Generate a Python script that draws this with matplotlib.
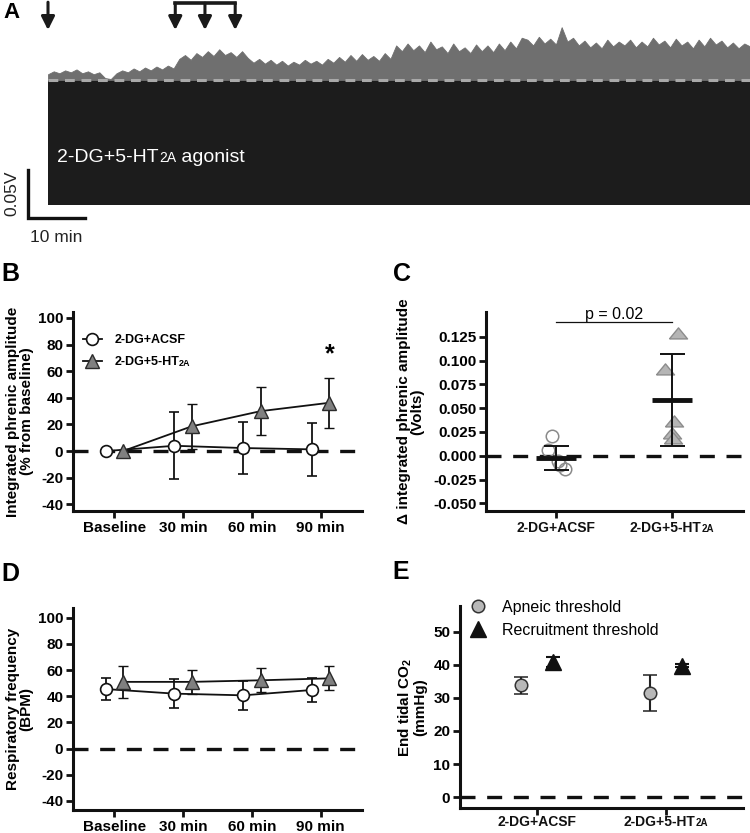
import numpy as np
import matplotlib
matplotlib.use("Agg")
import matplotlib.pyplot as plt
from matplotlib.lines import Line2D
from matplotlib.offsetbox import TextArea, HPacker, AnnotationBbox

plt.rcParams['font.family'] = ['Liberation Sans', 'DejaVu Sans']
plt.rcParams['font.weight'] = 'bold'
plt.rcParams['axes.labelweight'] = 'bold'
plt.rcParams['axes.unicode_minus'] = False
plt.rcParams['mathtext.fontset'] = 'custom'
plt.rcParams['mathtext.rm'] = 'Liberation Sans'
plt.rcParams['mathtext.bf'] = 'Liberation Sans:bold'

# ---------------- data ----------------
# A: integrated phrenic envelope above baseline (mV), one reading per minute
trace_min = np.arange(124)
trace_mv = [6, 9, 7, 10, 8, 11, 7, 9, 6, 8,
            2, 1,
            7, 10, 8, 12, 9, 13, 10, 14, 11, 15, 12,
            22, 26, 21, 28, 24, 30, 25, 32, 26, 29, 24, 30, 23,
            18, 22, 17, 21, 16, 20, 15, 19, 16, 21, 17, 20, 16, 22, 18, 24, 19,
            26, 20, 27, 21, 25, 20, 28, 22,
            36, 30, 38, 31, 36, 29, 40, 32, 35, 28, 38, 30, 34, 28, 37, 30, 36,
            29, 38, 31, 40, 33, 44,
            42, 36, 45, 38, 43, 37, 55, 40, 44, 36, 41, 34, 39, 33, 42, 35, 40,
            36, 42, 34, 40, 35, 44, 37, 41, 34, 43, 36, 40, 33, 42, 35, 44, 37,
            41, 34, 39, 33, 38, 35]
raw_depth_mv = -130
arrow_min = [0]
bracket_min = [22.3, 27.5, 32.8]

# B / D
time_labels = ["Baseline", "30 min", "60 min", "90 min"]
amp_acsf = [0, 4, 2.3, 1.3]
amp_acsf_err = [0, 25.2, 19.6, 20]
amp_ht = [0, 18.6, 30, 36.3]
amp_ht_err = [0, 16.7, 18, 18.9]
freq_acsf = [45.5, 42, 40.7, 44.8]
freq_acsf_err = [8.7, 11.3, 11.2, 9.3]
freq_ht = [51, 51, 52.2, 53.7]
freq_ht_err = [12, 9.3, 9.3, 9.3]

# C
dv_acsf = [0.021, 0.006, -0.006, -0.010, -0.014]
dv_acsf_jit = [-0.03, -0.07, 0.02, 0.035, 0.08]
dv_ht = [0.129, 0.091, 0.036, 0.024, 0.019]
dv_ht_jit = [0.05, -0.06, 0.02, 0.0, 0.01]
dv_mean = [-0.0025, 0.0585]
dv_sd = [0.0125, 0.0485]
p_text = "p = 0.02"
p_level = 0.140

# E
co2_apneic = [33.8, 31.5]
co2_apneic_err = [2.6, 5.5]
co2_recruit = [41.0, 39.8]
co2_recruit_err = [1.5, 0.5]

# ---------------- helpers ----------------
W, H = 750, 833


def box(l, t, r, b):
    return [l / W, 1 - b / H, (r - l) / W, (b - t) / H]


def style(ax):
    for s in ['top', 'right']:
        ax.spines[s].set_visible(False)
    for s in ['left', 'bottom']:
        ax.spines[s].set_linewidth(2.2)
        ax.spines[s].set_color('#111111')
    ax.tick_params(direction='out', length=5, width=2, labelsize=11, pad=2,
                   color='#111111')


def zero_line(ax):
    ax.axhline(0, color='#111111', lw=2.4, ls=(0, (4.5, 3.5)), zorder=1)


def rich(ax, x, y, parts, xycoords, align, offset=(0, 0)):
    areas = [TextArea(s, textprops=p) for s, p in parts]
    pack = HPacker(children=areas, align='baseline', pad=0, sep=0)
    ab = AnnotationBbox(pack, (x, y), xycoords=xycoords, xybox=offset,
                        boxcoords='offset points', frameon=False,
                        box_alignment=align, pad=0, annotation_clip=False)
    ax.add_artist(ab)


def group_labels(ax, drop):
    ax.set_xticks([0, 1])
    ax.set_xticklabels(['', ''])
    big = dict(fontsize=10, fontweight='bold', color='#111111')
    small = dict(fontsize=7, fontweight='bold', color='#111111')
    tr = ax.get_xaxis_transform()
    rich(ax, 0, 0, [("2-DG+ACSF", big)], tr, (0.5, 1), (0, -drop))
    rich(ax, 1, 0, [("2-DG+5-HT", big), ("2A", small)], tr, (0.5, 1), (0, -drop))


fig = plt.figure(figsize=(7.5, 8.33), dpi=100)

# ---------------- A ----------------
axA = fig.add_axes(box(0, 0, 750, 245))
axA.axis('off')
axA.set_xlim(-8.41, 123)
axA.set_ylim(-171.9, 83.3)
axA.fill_between(trace_min, raw_depth_mv, 0, color='#1c1c1c', lw=0)
axA.fill_between(trace_min, 0, trace_mv, color='#6f6f6f', lw=0.6,
                 edgecolor='#6f6f6f')
axA.plot([trace_min[0], trace_min[-1]], [0, 0], color='#a9a9a9', lw=2.2,
         ls=(0, (3.2, 2.2)))
arrow_kw = dict(arrowstyle='-|>', lw=2.2, color='#1a1a1a', mutation_scale=20,
                shrinkA=0, shrinkB=0)
for t in arrow_min:
    axA.annotate('', xy=(t, 52), xytext=(t, 81), arrowprops=arrow_kw)
for t in bracket_min:
    axA.annotate('', xy=(t, 52), xytext=(t, 80), arrowprops=arrow_kw)
axA.plot([bracket_min[0], bracket_min[-1]], [80, 80], color='#1a1a1a', lw=2.6,
         solid_capstyle='projecting')
# scale bars: 10 min x 0.05 V
axA.plot([-3.5, -3.5, 6.5], [-93.7, -143.7, -143.7], color='#111111', lw=2.4,
         solid_joinstyle='miter', clip_on=False)
axA.text(-6.4, -118, "0.05V", rotation=90, ha='center', va='center',
         fontsize=12.5, fontweight='normal', color='#222222')
axA.text(1.5, -164, "10 min", ha='center', va='center', fontsize=12.5,
         fontweight='normal', color='#222222')
w_big = dict(fontsize=14, fontweight='normal', color='white')
w_small = dict(fontsize=10, fontweight='normal', color='white')
rich(axA, 1.6, -81, [("2-DG+5-HT", w_big), ("2A", w_small), (" agonist", w_big)],
     'data', (0, 0.5))

# ---------------- B ----------------
x4 = np.arange(len(time_labels))
circ = dict(marker='o', ms=8.5, mfc='white', mec='#111111', mew=1.2)
tri = dict(marker='^', ms=10.5, mfc='#808080', mec='#2b2b2b', mew=1.0)
eb = dict(color='#111111', lw=1.3, elinewidth=1.3, capsize=3.8, capthick=1.3)

axB = fig.add_axes(box(73, 312, 362, 511))
style(axB)
zero_line(axB)
axB.errorbar(x4 - 0.125, amp_acsf, yerr=amp_acsf_err, errorevery=(1, 1),
             zorder=3, **circ, **eb)
axB.errorbar(x4 + 0.125, amp_ht, yerr=amp_ht_err, errorevery=(1, 1),
             zorder=4, **tri, **eb)
axB.text(x4[-1] + 0.125, 73, "*", ha='center', va='center', fontsize=18,
         fontweight='bold')
axB.set_xlim(-0.6, 3.6)
axB.set_ylim(-45, 104.5)
axB.set_yticks(range(-40, 101, 20))
axB.set_xticks(x4)
axB.set_xticklabels(time_labels)
axB.set_ylabel("Integrated phrenic amplitude\n(% from baseline)", fontsize=11,
               labelpad=3, linespacing=1.0)
handles = [Line2D([], [], color='#111111', lw=1.3, **circ),
           Line2D([], [], color='#111111', lw=1.3, **tri)]
leg = axB.legend(handles, ["2-DG+ACSF", "2-DG+5-HT"], loc='upper left',
                 bbox_to_anchor=(0.035, 0.89), frameon=False, fontsize=9,
                 handlelength=1.5, handletextpad=1.0, labelspacing=0.8,
                 borderaxespad=0, borderpad=0)
axB.annotate("2A", xy=(1, 0), xycoords=leg.get_texts()[1], ha='left',
             va='bottom', fontsize=6.5, fontweight='bold', zorder=6)

# ---------------- C ----------------
axC = fig.add_axes(box(486, 312, 743, 511))
style(axC)
zero_line(axC)
axC.plot(dv_acsf_jit, dv_acsf, ls='none', marker='o', ms=9, mfc='none',
         mec='#8a8a8a', mew=1.1, zorder=3)
wide_tri = [(-1, -0.6), (1, -0.6), (0, 0.62), (-1, -0.6)]
axC.plot(1 + np.array(dv_ht_jit), dv_ht, ls='none', marker=wide_tri, ms=13,
         mfc='#b5b5b5', mec='#8c8c8c', mew=1.0, zorder=3)
axC.hlines(dv_mean, np.arange(2) - 0.17, np.arange(2) + 0.17, color='#111111',
           lw=3.5, zorder=5)
axC.errorbar(np.arange(2), dv_mean, yerr=dv_sd, fmt='none', ecolor='#111111',
             elinewidth=1.4, capsize=9, capthick=1.4, zorder=4)
axC.plot([0, 1], [p_level, p_level], color='#111111', lw=0.9)
axC.text(0.5, p_level + 0.001, p_text, ha='center', va='bottom', fontsize=11.5,
         fontweight='normal')
axC.set_xlim(-0.6, 1.61)
axC.set_ylim(-0.058, 0.151)
axC.set_yticks(np.arange(-0.05, 0.126, 0.025))
axC.yaxis.set_major_formatter(matplotlib.ticker.FormatStrFormatter('%.3f'))
group_labels(axC, 7)
axC.set_ylabel("\u0394 integrated phrenic amplitude\n(Volts)", fontsize=11,
               labelpad=6, linespacing=1.0)

# ---------------- D ----------------
axD = fig.add_axes(box(73, 608, 362, 810))
style(axD)
zero_line(axD)
axD.errorbar(x4 - 0.125, freq_acsf, yerr=freq_acsf_err, zorder=3, **circ, **eb)
axD.errorbar(x4 + 0.125, freq_ht, yerr=freq_ht_err, zorder=4, **tri, **eb)
axD.set_xlim(-0.6, 3.6)
axD.set_ylim(-47, 107.5)
axD.set_yticks(range(-40, 101, 20))
axD.set_xticks(x4)
axD.set_xticklabels(time_labels)
axD.set_ylabel("Respiratory frequency\n(BPM)", fontsize=11, labelpad=3,
               linespacing=1.0)

# ---------------- E ----------------
axE = fig.add_axes(box(460, 606, 743, 808))
style(axE)
zero_line(axE)
g_circ = dict(marker='o', ms=9, mfc='#b8b8b8', mec='#333333', mew=1.1)
b_tri = dict(marker='^', ms=11.5, mfc='#111111', mec='#111111')
axE.errorbar(np.arange(2) - 0.125, co2_apneic, yerr=co2_apneic_err, ls='none',
             ecolor='#222222', elinewidth=1.5, capsize=4.7, capthick=1.5,
             zorder=3, **g_circ)
axE.errorbar(np.arange(2) + 0.125, co2_recruit, yerr=co2_recruit_err, ls='none',
             ecolor='#111111', elinewidth=1.5, capsize=4.7, capthick=1.5,
             zorder=3, **b_tri)
axE.set_xlim(-0.6, 1.6)
axE.set_ylim(-3.3, 57.8)
axE.set_yticks(range(0, 51, 10))
group_labels(axE, 5)
axE.set_ylabel("End tidal CO$_\\mathbf{2}$\n(mmHg)", fontsize=11, labelpad=4,
               linespacing=1.0)
e_handles = [Line2D([], [], ls='none', **g_circ), Line2D([], [], ls='none', **b_tri)]
axE.legend(e_handles, ["Apneic threshold", "Recruitment threshold"],
           loc='upper left', bbox_to_anchor=(0.034, 1.03), frameon=False,
           prop=dict(size=11.5, weight='normal'), handlelength=1.0,
           handletextpad=1.0, labelspacing=0.5, borderaxespad=0, borderpad=0)

# ---------------- panel letters ----------------
for lab, x, y, size in [("A", 3, 2, 16), ("B", 1, 262, 18), ("C", 393, 262, 18),
                        ("D", 1, 562, 18), ("E", 392, 560, 18)]:
    fig.text(x / W, 1 - y / H, lab, ha='left', va='top', fontsize=size,
             fontweight='bold')

fig.savefig("out.png", dpi=100)
